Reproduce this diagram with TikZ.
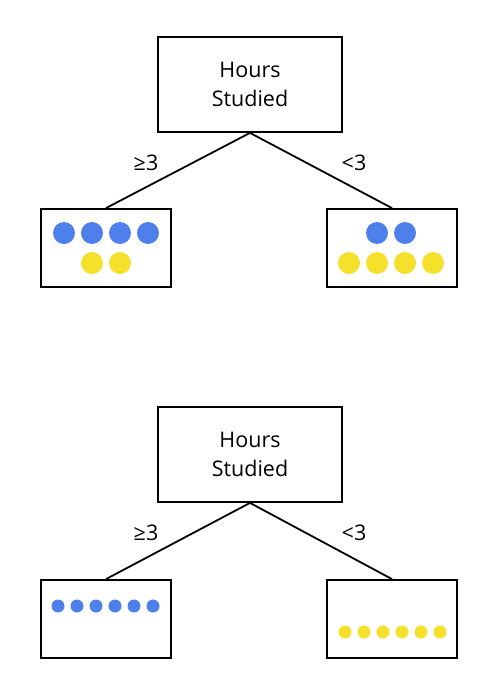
\documentclass[tikz,border=0pt]{standalone}
\usepackage{fontspec}
\setmainfont{Open Sans}
\definecolor{dotblue}{HTML}{4D80EA}
\definecolor{dotyellow}{HTML}{F5E12C}
\begin{document}
\begin{tikzpicture}[x=1pt,y=-1pt,
  rootbox/.style={draw,line width=1.8pt,minimum width=184pt,minimum height=95pt,inner sep=0pt,align=center,font=\fontsize{21.5}{28.5}\selectfont},
  leafbox/.style={draw,line width=1.8pt,minimum width=130pt,minimum height=78pt,inner sep=0pt},
  edge/.style={line width=1.8pt},
  lbl/.style={font=\fontsize{21.5}{24}\selectfont,inner sep=0pt},
  bigblue/.style={circle,fill=dotblue,minimum size=22pt,inner sep=0pt},
  bigyellow/.style={circle,fill=dotyellow,minimum size=22pt,inner sep=0pt},
  smallblue/.style={circle,fill=dotblue,minimum size=13pt,inner sep=0pt},
  smallyellow/.style={circle,fill=dotyellow,minimum size=13pt,inner sep=0pt}]
\useasboundingbox[fill=white] (0,0) rectangle (501,693);
% top tree
\node[rootbox] (r1) at (250,84.5) {Hours\\Studied};
\node[leafbox] (l1) at (106,248) {};
\node[leafbox] (g1) at (392,248) {};
\draw[edge] (r1.south) -- (l1.north);
\draw[edge] (r1.south) -- (g1.north);
\node[lbl] (a1) at (146,163) {≥3};
\node[lbl] (b1) at (354,163) {<3};
\foreach \x [count=\i] in {64,92,120,148} \node[bigblue] (lb\i) at (\x,233) {};
\foreach \x [count=\i] in {92,120} \node[bigyellow] (ly\i) at (\x,263) {};
\foreach \x [count=\i] in {377,405} \node[bigblue] (rb\i) at (\x,233) {};
\foreach \x [count=\i] in {349,377,405,433} \node[bigyellow] (ry\i) at (\x,263) {};
% bottom tree
\node[rootbox] (r2) at (250,454.5) {Hours\\Studied};
\node[leafbox] (l2) at (106,619) {};
\node[leafbox] (g2) at (392,619) {};
\draw[edge] (r2.south) -- (l2.north);
\draw[edge] (r2.south) -- (g2.north);
\node[lbl] (a2) at (146,533) {≥3};
\node[lbl] (b2) at (354,533) {<3};
\foreach \i in {0,...,5} \node[smallblue] (sb\i) at (58+19*\i,606) {};
\foreach \i in {0,...,5} \node[smallyellow] (sy\i) at (345+19*\i,632) {};
\end{tikzpicture}
\end{document}
